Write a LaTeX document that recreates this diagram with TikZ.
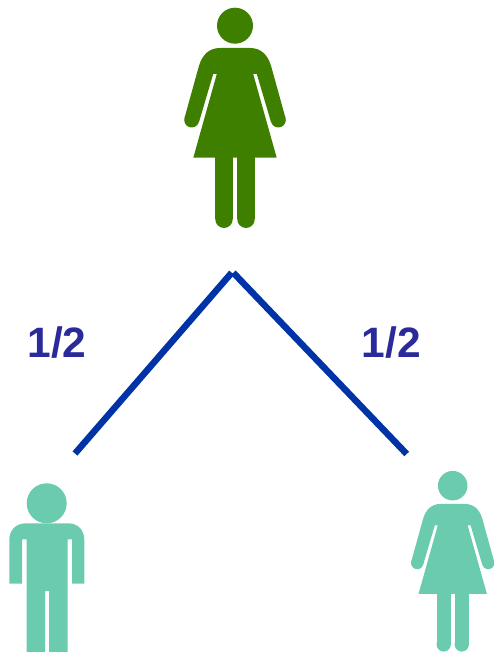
\documentclass[tikz,border=0pt]{standalone}
\usepackage{fontspec}
\setmainfont{Liberation Sans}
\definecolor{topgreen}{HTML}{3F7F00}
\definecolor{mint}{HTML}{6BCBAF}
\definecolor{branchblue}{HTML}{0033A6}
\definecolor{labelblue}{HTML}{2B2A9B}
\tikzset{
  branch/.style={draw=branchblue,line width=6.5pt},
  fraction/.style={font=\bfseries\fontsize{42.5}{44}\selectfont,text=labelblue,inner sep=0pt},
  woman/.pic={
    \fill (0,0) circle [radius=18];
    \fill (-15,22.3) -- (15,22.3) .. controls (26,22.3) and (32.5,29) .. (36,40)
      -- (50.5,92.3) -- (36,96.3) -- (21.8,48.3) -- (18.2,48.3) -- (41.7,132)
      -- (-41.7,132) -- (-18.2,48.3) -- (-21.8,48.3) -- (-36,96.3) -- (-50.5,92.3)
      -- (-36,40) .. controls (-32.5,29) and (-26,22.3) .. (-15,22.3) -- cycle;
    \fill (43.3,94.3) circle [radius=7.5];
    \fill (-43.3,94.3) circle [radius=7.5];
    \fill (2.3,131) rectangle (19.7,193.6);
    \fill (-2.3,131) rectangle (-19.7,193.6);
    \fill (11,193.6) circle [radius=8.7];
    \fill (-11,193.6) circle [radius=8.7];
  }
}
\begin{document}
\begin{tikzpicture}[x=1pt,y=-1pt]
\useasboundingbox (0,0) rectangle (493,652);
% figures
\pic[topgreen] (mother) at (235,25.7) {woman};
\pic[mint,scale=0.82] (daughter) at (452.7,485.7) {woman};
% man
\fill[mint] (46.7,503.3) circle [radius=20];
\fill[mint] (26,523.3) -- (68,523.3) .. controls (78,523.3) and (84.3,530) .. (84.3,540)
  -- (84.3,583.7) -- (72,583.7) -- (72,539.3) -- (67.7,539.3) -- (67.7,652)
  -- (49,652) -- (49,591) -- (45,591) -- (45,652) -- (26.7,652) -- (26.7,539.3)
  -- (22,539.3) -- (22,583.7) -- (9.3,583.7) -- (9.3,540)
  .. controls (9.3,530) and (16,523.3) .. (26,523.3) -- cycle;
% branches
\coordinate (apexL) at (231.7,272.7);
\coordinate (apexR) at (233.3,272.7);
\coordinate (endL) at (75,453.5);
\coordinate (endR) at (406.7,454);
\draw[branch] (apexL) -- (endL);
\draw[branch] (apexR) -- (endR);
% labels
\node[fraction] (labelL) at (57,343) {1/2};
\node[fraction] (labelR) at (391.5,343) {1/2};
\end{tikzpicture}
\end{document}
